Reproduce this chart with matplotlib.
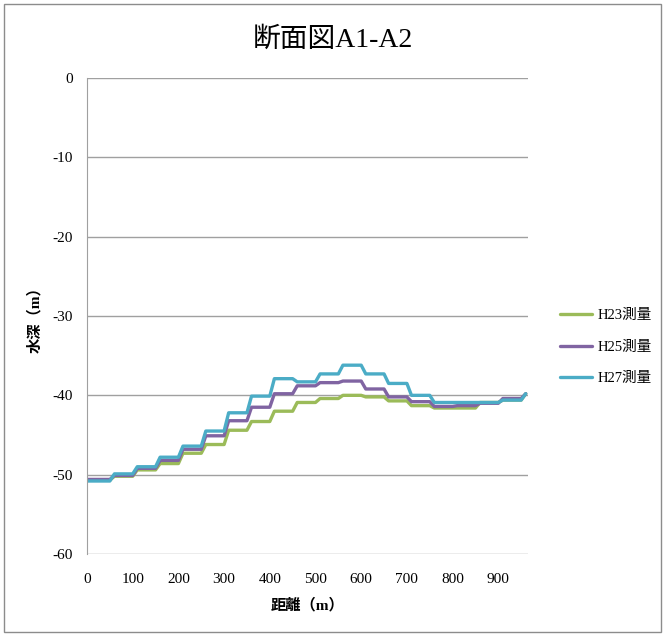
import matplotlib.pyplot as plt
from matplotlib.patches import Rectangle

plt.rcParams['font.family'] = ['Liberation Serif', 'Noto Sans CJK JP']
plt.rcParams['axes.unicode_minus'] = False

# distance along section (m)
distance = [0, 50, 60, 100, 110, 150, 160, 200, 210, 250, 260, 300, 310, 350,
            360, 400, 410, 450, 460, 500, 510, 550, 560, 600, 610, 650, 660, 700,
            710, 750, 760, 800, 810, 850, 860, 900, 910, 950, 960]

# water depth (m)
h23 = [-50.7, -50.7, -50.2, -50.2, -49.4, -49.4, -48.6, -48.6, -47.3, -47.3,
       -46.2, -46.2, -44.4, -44.4, -43.3, -43.3, -42.0, -42.0, -40.9, -40.9,
       -40.4, -40.4, -40.0, -40.0, -40.2, -40.2, -40.7, -40.7, -41.3, -41.3,
       -41.6, -41.6, -41.6, -41.6, -40.9, -40.9, -40.6, -40.6, -39.8]
h25 = [-50.6, -50.6, -50.1, -50.1, -49.2, -49.2, -48.2, -48.2, -46.8, -46.8,
       -45.1, -45.1, -43.2, -43.2, -41.5, -41.5, -39.8, -39.8, -38.8, -38.8,
       -38.4, -38.4, -38.2, -38.2, -39.2, -39.2, -40.2, -40.2, -40.8, -40.8,
       -41.4, -41.4, -41.3, -41.3, -41.0, -41.0, -40.4, -40.4, -39.8]
h27 = [-50.8, -50.8, -49.9, -49.9, -49.0, -49.0, -47.8, -47.8, -46.4, -46.4,
       -44.5, -44.5, -42.2, -42.2, -40.1, -40.1, -37.9, -37.9, -38.3, -38.3,
       -37.3, -37.3, -36.2, -36.2, -37.3, -37.3, -38.5, -38.5, -40.0, -40.0,
       -40.9, -40.9, -40.9, -40.9, -40.9, -40.9, -40.6, -40.6, -39.8]

series = [("H23測量", h23, "#9BBB59"),
          ("H25測量", h25, "#8064A2"),
          ("H27測量", h27, "#4BACC6")]

fig = plt.figure(figsize=(6.65, 6.35), dpi=100)
ax = fig.add_axes([87 / 665, 1 - 554 / 635, (528 - 87) / 665, (554 - 78) / 635])

for name, vals, col in series:
    ax.plot(distance, vals, color=col, lw=2.4, label=name, solid_capstyle='round')

ax.set_xlim(0, 965)
ax.set_ylim(-60, 0)
ax.set_xticks(range(0, 901, 100))
ax.set_yticks(range(-60, 1, 10))
ax.yaxis.grid(True, color='#A0A0A0', lw=1)
ax.set_axisbelow(True)
for s in ['top', 'right', 'bottom']:
    ax.spines[s].set_visible(False)
ax.spines['left'].set_color('#A0A0A0')
ax.tick_params(axis='both', length=0, labelsize=11)
ax.tick_params(axis='y', pad=10)
ax.tick_params(axis='x', pad=14)

ax.set_xlabel("距離（m）", fontsize=11, fontweight='bold', labelpad=8)
fig.text(35 / 665, 1 - 316 / 635, "水深（m）", rotation=90, fontsize=11,
         fontweight='bold', ha='center', va='center')
fig.text(0.5, 1 - 40 / 635, "断面図A1-A2", fontsize=20, ha='center', va='center')

ax.legend(loc='center left', bbox_to_anchor=(560 / 665, 1 - 347 / 635),
          bbox_transform=fig.transFigure, frameon=False, fontsize=10.5,
          handlelength=2.2, labelspacing=1.25, handletextpad=0.35,
          borderpad=0, borderaxespad=0)

fig.patches.append(Rectangle((0.006, 0.004), 0.988, 0.99, transform=fig.transFigure,
                             fill=False, edgecolor='#8C8C8C', lw=1))

fig.savefig("out.png", dpi=100)
